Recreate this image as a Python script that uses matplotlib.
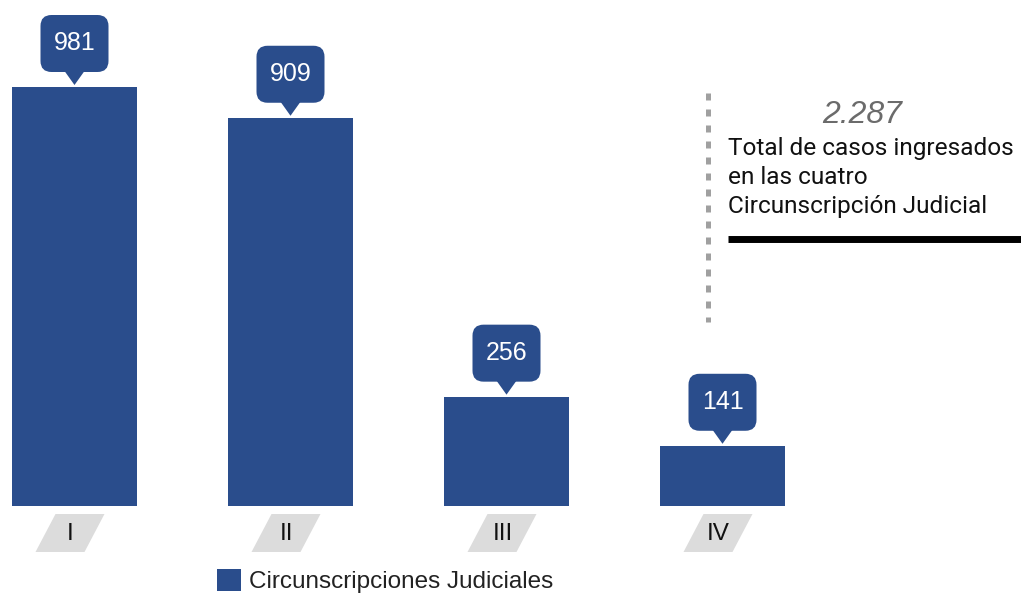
import numpy as np
import matplotlib
matplotlib.use('Agg')
import matplotlib.pyplot as plt
import matplotlib.transforms as mtransforms
from matplotlib.patches import FancyBboxPatch, Polygon, Patch

# data
circunscripciones = ['I', 'II', 'III', 'IV']
casos = [981, 909, 256, 141]
total_label = '2.287'
total_lines = ['Total de casos ingresados', 'en las cuatro', 'Circunscripción Judicial']
legend_label = 'Circunscripciones Judiciales'

BLUE = '#2a4d8c'
W, H = 1021, 594

# layout in pixels (from top-left)
x0_px, step_px = 74.5, 216.0        # first bar centre, spacing
base_px = 506.0                      # baseline from top
px_per_unit = 419.0 / 981.0          # bar height scale

fig = plt.figure(figsize=(W / 100, H / 100), dpi=100)
ax = fig.add_axes([0, 0, 1, 1])
ax.set_xlim(-x0_px / step_px, (W - x0_px) / step_px)
ax.set_ylim(-(H - base_px) / px_per_unit, base_px / px_per_unit)
ax.axis('off')

x = np.arange(len(casos))
ax.bar(x, casos, width=125 / step_px, color=BLUE, label=legend_label, zorder=2)

for i, v in zip(x, casos):
    # callout, drawn in pixel units anchored at the bar top
    t = mtransforms.ScaledTranslation(i, v, ax.transData)
    box = FancyBboxPatch((-34, 15), 68, 57, boxstyle='round,pad=0,rounding_size=11',
                         fc=BLUE, ec='none', transform=t, clip_on=False, zorder=3)
    ax.add_patch(box)
    ax.add_patch(Polygon([(-10, 16), (10, 16), (0, 2)], closed=True, fc=BLUE, ec='none',
                         transform=t, clip_on=False, zorder=3))
    ax.text(0, 43.5, f'{v}', transform=t, ha='center', va='center', color='white',
            fontsize=18, family='Liberation Sans', zorder=4)

    # slanted category label under the bar
    tb = mtransforms.ScaledTranslation(i, 0, ax.transData)
    ax.add_patch(Polygon([(-39, -46), (10, -46), (30, -8), (-19, -8)], closed=True,
                         fc='#dcdcdc', ec='none', transform=tb, clip_on=False, zorder=1))
    ax.text(-4, -28, circunscripciones[i], transform=tb, ha='center', va='center',
            color='#111111', fontsize=17.5, family='Liberation Sans', zorder=2)

leg = ax.legend(handles=[Patch(fc=BLUE, ec='none', label=legend_label)],
                loc='center left', bbox_to_anchor=(217 / W, 1 - 581 / H),
                frameon=False, borderpad=0, borderaxespad=0, handlelength=1.0,
                handleheight=1.0, handletextpad=0.3,
                prop={'family': 'Liberation Sans', 'size': 17.5})
for txt in leg.get_texts():
    txt.set_color('#222222')

# side annotation (pixel overlay)
ov = fig.add_axes([0, 0, 1, 1], zorder=5)
ov.set_xlim(0, W)
ov.set_ylim(H, 0)
ov.axis('off')
ov.plot([707.5, 707.5], [93, 322], color='#a0a0a0', lw=3.6,
        linestyle=(0, (1.4, 1.8)), solid_capstyle='butt', dash_capstyle='butt')
ov.text(862, 123, total_label, ha='center', va='baseline', color='#6b6b6b',
        fontsize=23, style='italic', family='Liberation Sans')
for k, line in enumerate(total_lines):
    ov.text(728, 155 + 29 * k, line, ha='left', va='baseline', color='#111111',
            fontsize=17.6, family='Roboto')
ov.plot([728, W], [239, 239], color='black', lw=5, solid_capstyle='butt')

fig.savefig('out.png', dpi=100)
